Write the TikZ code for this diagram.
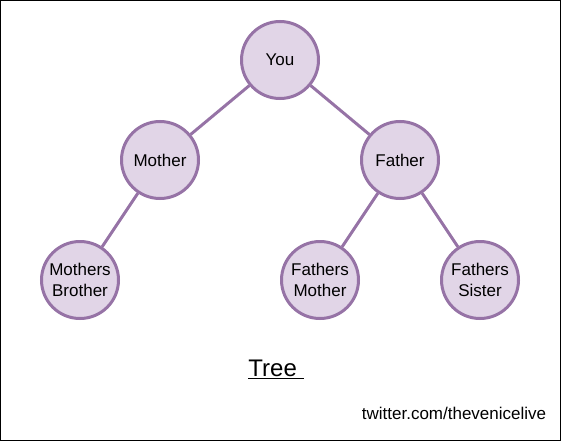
\documentclass[tikz,border=0pt]{standalone}
\usepackage{fontspec}
\setmainfont{Liberation Sans}
\definecolor{pfill}{HTML}{E1D5E7}
\definecolor{pline}{HTML}{9673A6}
\begin{document}
\begin{tikzpicture}[x=1pt,y=-1pt,
  person/.style={circle,draw=pline,fill=pfill,line width=3pt,minimum size=77pt,inner sep=0pt,align=center,font=\fontsize{17}{20.5}\selectfont},
  link/.style={draw=pline,line width=3pt}]
\useasboundingbox (0,0) rectangle (561,441);
\draw[line width=1pt] (0.5,0.5) rectangle (560.5,440.5);
\node[person] (you) at (280,60) {You};
\node[person] (mother) at (160,160) {Mother};
\node[person] (father) at (400,160) {Father};
\node[person] (mb) at (80,280) {Mothers\\Brother};
\node[person] (fm) at (320,280) {Fathers\\Mother};
\node[person] (fs) at (480,280) {Fathers\\Sister};
\draw[link] (you) -- (mother);
\draw[link] (you) -- (father);
\draw[link] (mother) -- (mb);
\draw[link] (father) -- (fm);
\draw[link] (father) -- (fs);
\node[font=\fontsize{24}{28}\selectfont] (tree) at (276,369) {\underline{Tree\ }};
\node[font=\fontsize{17}{19}\selectfont] (tw) at (454,413) {twitter.com/thevenicelive};
\end{tikzpicture}
\end{document}
